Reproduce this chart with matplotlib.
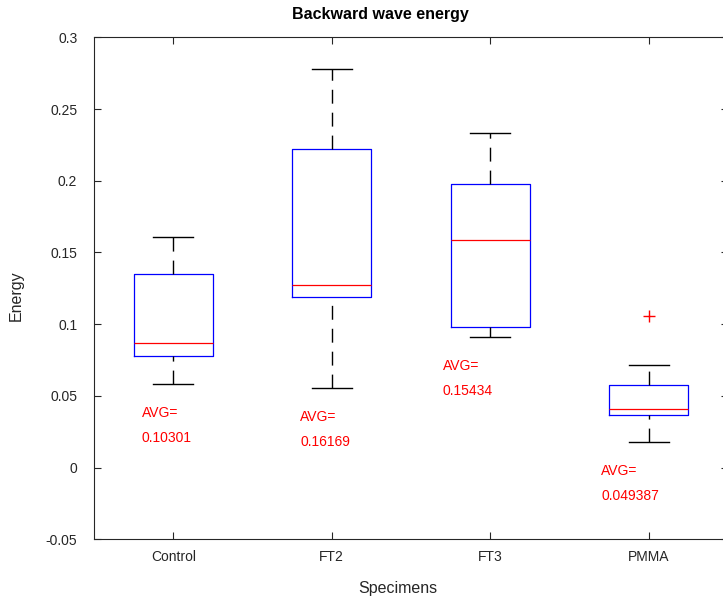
import matplotlib
matplotlib.use("Agg")
import matplotlib.pyplot as plt
from matplotlib.ticker import FixedLocator, FuncFormatter

# Box statistics per specimen group
specimens = ["Control", "FT2", "FT3", "PMMA"]
whisker_low = [0.0585, 0.0557, 0.0911, 0.0176]
quartile_1 = [0.0778, 0.1189, 0.0982, 0.0365]
medians = [0.0867, 0.1275, 0.1589, 0.0411]
quartile_3 = [0.1350, 0.2219, 0.1975, 0.0574]
whisker_high = [0.1610, 0.2779, 0.2331, 0.0715]
outliers = [[], [], [], [0.1059]]
averages = [0.10301, 0.16169, 0.15434, 0.049387]
y_ticks = [-0.05, 0, 0.05, 0.1, 0.15, 0.2, 0.25, 0.3]

# Horizontal shift of each AVG annotation relative to its box
avg_label_dx = [-0.20, -0.20, -0.30, -0.30]

plt.rcParams["font.family"] = ["Liberation Sans", "DejaVu Sans"]
axis_color = "#262626"

fig = plt.figure(figsize=(7.23, 5.98), dpi=100)
W, H = 723, 598
ax = fig.add_axes([94 / W, (H - 539.3) / H, (728 - 94) / W, (539.3 - 37.3) / H])

positions = list(range(1, len(specimens) + 1))
stats = []
for name, lo, q1, med, q3, hi, fl in zip(specimens, whisker_low, quartile_1,
                                         medians, quartile_3, whisker_high, outliers):
    stats.append(dict(label=name, whislo=lo, q1=q1, med=med, q3=q3,
                      whishi=hi, fliers=fl))

res = ax.bxp(
    stats,
    positions=positions,
    widths=0.5,
    showfliers=True,
    boxprops=dict(color="blue", linewidth=0.9),
    medianprops=dict(color="red", linewidth=0.9),
    whiskerprops=dict(color="black", linewidth=1.0, linestyle=(0, (10, 6.5))),
    capprops=dict(color="black", linewidth=1.0),
    flierprops=dict(marker="+", markeredgecolor="red", markerfacecolor="none",
                    markersize=9, markeredgewidth=1.0, linestyle="none"),
)

# Lower whiskers are drawn upward from the cap so the dash pattern starts there
for w in res["whiskers"][0::2]:
    w.set_ydata(w.get_ydata()[::-1])

# Mean annotations under each lower whisker
for pos, lo, avg, dx in zip(positions, whisker_low, averages, avg_label_dx):
    ax.annotate("AVG=", xy=(pos + dx, lo), xytext=(0, -23.8),
                textcoords="offset points", color="red", fontsize=10,
                ha="left", va="baseline")
    ax.annotate("%.5g" % avg, xy=(pos + dx, lo), xytext=(0, -41.8),
                textcoords="offset points", color="red", fontsize=10,
                ha="left", va="baseline")

ax.set_xlim(0.5, 4.5)
ax.set_ylim(-0.05, 0.3)
ax.xaxis.set_major_locator(FixedLocator(positions))
ax.set_xticklabels(specimens)
ax.yaxis.set_major_locator(FixedLocator(y_ticks))
ax.yaxis.set_major_formatter(FuncFormatter(lambda v, _: "%g" % round(v, 4)))

ax.tick_params(direction="in", length=5, width=0.8, top=True, right=True,
               labelsize=10, color=axis_color, labelcolor=axis_color)
ax.tick_params(axis="y", pad=12)
ax.tick_params(axis="x", pad=8)
for sp in ax.spines.values():
    sp.set_color(axis_color)
    sp.set_linewidth(0.8)

fig.text(380 / W, 1 - 15 / H, "Backward wave energy", ha="center", va="center",
         fontsize=11.5, fontweight="bold", color="black")
fig.text(397.5 / W, 1 - 588 / H, "Specimens", ha="center", va="center",
         fontsize=11.5, color=axis_color)
fig.text(16.7 / W, 1 - 296 / H, "Energy", ha="center", va="center",
         rotation=90, fontsize=11.5, color=axis_color)

fig.savefig("out.png", dpi=100)
